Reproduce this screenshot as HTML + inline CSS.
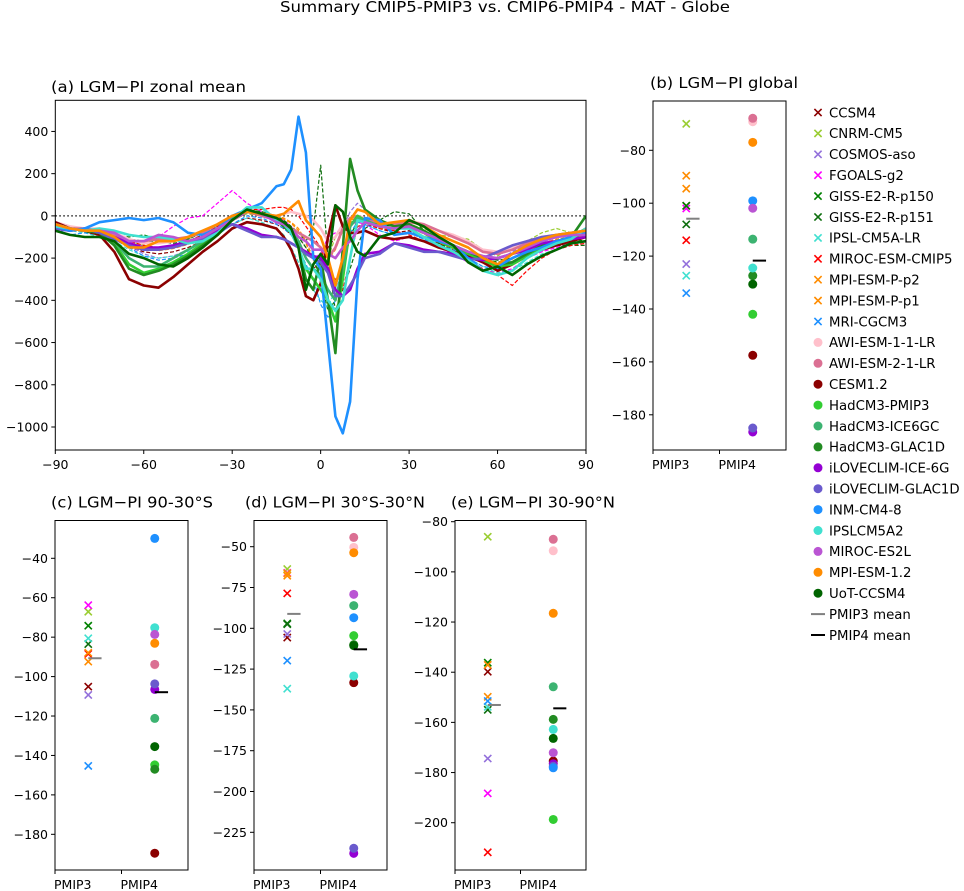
<!DOCTYPE html>
<html><head><meta charset="utf-8"><style>
html,body{margin:0;padding:0;background:#fff;}
svg{display:block;font-family:"DejaVu Sans","Liberation Sans",sans-serif;}
</style></head><body>
<svg id="fig" width="964" height="891" viewBox="0 0 964 891" xmlns="http://www.w3.org/2000/svg">
<rect x="0" y="0" width="964" height="891" fill="#fff"/>
<text x="505" y="12" font-size="15.5" text-anchor="middle" textLength="450" lengthAdjust="spacingAndGlyphs">Summary CMIP5-PMIP3 vs. CMIP6-PMIP4 - MAT - Globe</text>
</svg>
<script>
// ---------- data ----------
const pmip3Names = ["CCSM4","CNRM-CM5","COSMOS-aso","FGOALS-g2","GISS-E2-R-p150","GISS-E2-R-p151","IPSL-CM5A-LR","MIROC-ESM-CMIP5","MPI-ESM-P-p2","MPI-ESM-P-p1","MRI-CGCM3"];
const pmip3Colors = ["#8b0000","#9acd32","#9370db","#ff00ff","#008000","#0e6e0e","#40e0d0","#ff0000","#ff8c00","#ff8c00","#1e90ff"];
const pmip4Names = ["AWI-ESM-1-1-LR","AWI-ESM-2-1-LR","CESM1.2","HadCM3-PMIP3","HadCM3-ICE6GC","HadCM3-GLAC1D","iLOVECLIM-ICE-6G","iLOVECLIM-GLAC1D","INM-CM4-8","IPSLCM5A2","MIROC-ES2L","MPI-ESM-1.2","UoT-CCSM4"];
const pmip4Colors = ["#ffc0cb","#db7093","#8b0000","#32cd32","#3cb371","#228b22","#9400d3","#6a5acd","#1e90ff","#40e0d0","#ba55d3","#ff8c00","#006400"];

const globalP3 = [-101,-70,-123,-102,-101,-108,-127.4,-114,-89.6,-94.5,-134];
const globalP4 = [-69.2,-67.9,-157.5,-142,-113.6,-127.4,-186.5,-185,-99.1,-124.5,-101.9,-77,-130.6];
const southP3 = [-105.1,-67.1,-109.3,-63.8,-74.2,-83.5,-80.6,-88.5,-87.9,-92.4,-145.3];
const southP4 = [-94,-93.8,-189.6,-144.8,-121.2,-147,-106.5,-103.7,-29.9,-75.2,-78.6,-83.1,-135.5];
const tropP3 = [-105.7,-63.7,-103.5,-66,-97,-97.5,-137,-78.6,-66.3,-67.8,-119.8];
const tropP4 = [-50.4,-44.3,-133.3,-104.5,-86.1,-110,-237.9,-234.8,-93.5,-129.2,-79.2,-53.7,-110.6];
const northP3 = [-139.8,-86,-174.4,-188.3,-136.2,-155,-153.8,-211.8,-137.1,-149.8,-151.5];
const northP4 = [-91.6,-87,-175.4,-198.7,-145.8,-158.8,-176.5,-177.5,-178.1,-162.8,-172.1,-116.5,-166.4];

const lats = [-90,-85,-80,-75,-70,-65,-60,-55,-50,-45,-40,-35,-30,-25,-20,-15,-12.5,-10,-7.5,-5,-2.5,0,2.5,5,7.5,10,12.5,15,20,25,30,35,40,45,50,55,60,65,70,75,80,85,90];
const zonalP3 = [
[-40,-60,-70,-80,-110,-150,-170,-180,-170,-150,-120,-80,-40,-10,-20,-40,-60,-90,-130,-200,-250,-220,-150,-100,-60,-30,-20,-30,-60,-80,-70,-100,-130,-160,-200,-220,-240,-220,-180,-150,-130,-110,-90],
[-30,-50,-60,-60,-80,-120,-140,-130,-120,-110,-80,-50,-20,10,0,-20,-40,-60,-100,-150,-200,-250,-200,-100,-50,-30,-20,-20,-40,-50,-40,-60,-90,-100,-110,-160,-190,-150,-120,-80,-60,-80,-90],
[-40,-60,-60,-80,-100,-140,-180,-200,-190,-160,-120,-70,-20,20,10,-10,-30,-60,-150,-250,-300,-280,-200,-150,-60,20,60,30,-20,-50,-60,-80,-110,-140,-180,-190,-210,-170,-130,-100,-90,-80,-80],
[-40,-60,-70,-80,-100,-130,-120,-100,-50,-10,0,60,120,60,20,0,-20,-50,-100,-150,-200,-180,-100,-80,-60,-40,-30,-40,-90,-120,-100,-120,-150,-180,-220,-250,-270,-250,-200,-170,-150,-130,-120],
[-50,-60,-70,-80,-90,-100,-90,-110,-120,-110,-80,-40,0,30,20,-10,-30,-60,-100,-150,-200,-300,-450,-400,-250,-100,-20,-10,-40,-50,-60,-100,-140,-150,-170,-200,-220,-200,-160,-130,-120,-110,-120],
[-40,-60,-80,-80,-100,-110,-120,-120,-130,-120,-90,-50,-10,20,20,0,-20,-50,-80,-120,-60,240,-200,-450,-350,-250,-140,-60,-20,20,10,-70,-130,-150,-180,-200,-210,-200,-160,-130,-140,-140,-140],
[-50,-70,-80,-100,-120,-160,-190,-200,-190,-170,-140,-90,-40,-10,-30,-60,-90,-150,-220,-300,-350,-400,-430,-350,-200,-100,-50,-40,-70,-90,-80,-110,-140,-160,-200,-240,-270,-260,-220,-180,-160,-140,-120],
[-40,-50,-60,-80,-100,-120,-140,-150,-140,-120,-90,-50,-10,30,30,40,40,30,0,-50,-100,-150,-250,-300,-350,-200,-50,-40,-60,-70,-90,-120,-150,-170,-210,-250,-280,-330,-260,-200,-160,-140,-130],
[-40,-60,-70,-70,-90,-130,-150,-160,-150,-130,-100,-60,-20,20,10,0,-10,-30,-60,-120,-200,-230,-200,-150,-60,-10,0,-20,-50,-60,-50,-80,-120,-150,-180,-210,-240,-200,-160,-130,-110,-100,-90],
[-45,-65,-75,-75,-95,-135,-155,-165,-155,-135,-105,-65,-25,15,5,-5,-15,-35,-70,-130,-210,-240,-210,-160,-70,-20,-10,-25,-55,-65,-55,-85,-125,-155,-185,-215,-245,-205,-165,-135,-115,-105,-95],
[-60,-90,-80,-90,-110,-150,-190,-210,-200,-180,-140,-90,-40,0,-10,-40,-60,-90,-150,-230,-300,-420,-480,-400,-200,-80,-30,-40,-70,-90,-80,-110,-140,-160,-200,-240,-250,-230,-190,-150,-130,-110,-100]
];
const zonalP4 = [
[-30,-50,-60,-60,-80,-110,-130,-130,-120,-100,-80,-40,0,20,10,0,10,20,10,0,-20,-60,-120,-100,-40,-10,0,-10,-30,-40,-20,-40,-70,-90,-120,-160,-170,-150,-120,-100,-90,-80,-70],
[-40,-60,-60,-70,-90,-120,-120,-110,-110,-100,-80,-40,0,20,0,-20,-40,-60,-80,-100,-120,-150,-200,-150,-60,-10,0,-20,-30,-40,-30,-40,-70,-100,-130,-170,-180,-160,-130,-110,-100,-90,-70],
[-30,-60,-70,-90,-170,-300,-330,-340,-290,-230,-170,-120,-60,-30,-40,-60,-100,-160,-250,-380,-400,-320,-100,50,-50,-80,-80,-70,-100,-110,-100,-120,-150,-170,-190,-220,-260,-230,-190,-160,-140,-120,-100],
[-40,-60,-70,-80,-130,-230,-270,-250,-220,-180,-130,-80,-20,20,10,-20,-50,-80,-150,-250,-300,-350,-400,-500,-300,-50,0,-20,-50,-60,-50,-80,-120,-150,-180,-210,-240,-230,-190,-150,-130,-110,-70],
[-40,-60,-70,-80,-120,-200,-240,-240,-200,-160,-120,-70,-10,30,10,-20,-40,-70,-120,-200,-250,-280,-350,-400,-250,-50,-10,-20,-50,-60,-50,-70,-110,-140,-170,-200,-230,-220,-180,-140,-120,-100,-60],
[-40,-60,-70,-80,-140,-250,-280,-260,-230,-190,-140,-90,-20,30,10,-20,-50,-80,-150,-300,-350,-200,-400,-650,-150,270,120,30,-20,-50,-40,-70,-110,-140,-170,-200,-230,-220,-180,-140,-120,-100,0],
[-60,-70,-60,-80,-100,-130,-150,-150,-140,-120,-100,-70,-40,-60,-90,-100,-110,-130,-150,-170,-190,-200,-250,-350,-380,-350,-250,-180,-170,-130,-140,-160,-170,-180,-200,-210,-200,-180,-160,-130,-120,-110,-100],
[-60,-70,-60,-80,-110,-140,-160,-160,-150,-130,-110,-80,-40,-70,-100,-100,-110,-130,-150,-180,-200,-220,-270,-380,-380,-330,-270,-200,-180,-130,-150,-170,-170,-190,-210,-200,-170,-140,-120,-100,-90,-80,-70],
[-50,-70,-60,-30,-20,-10,-20,-10,-30,-80,-90,-60,0,30,60,140,150,220,470,300,-200,-250,-600,-950,-1030,-880,-300,-10,-20,-90,-80,-100,-120,-140,-200,-260,-240,-200,-170,-150,-120,-100,-80],
[-50,-60,-70,-60,-70,-90,-100,-100,-110,-130,-120,-80,-20,40,40,-20,-40,-80,-150,-250,-250,-300,-400,-450,-400,-200,-20,-30,-50,-60,-60,-100,-140,-170,-210,-260,-280,-260,-200,-160,-130,-110,-60],
[-40,-60,-70,-70,-80,-120,-120,-90,-100,-120,-100,-60,-20,20,10,-30,-40,-60,-100,-120,-160,-160,-180,-200,-150,-120,-70,-30,-50,-60,-50,-80,-110,-140,-170,-190,-200,-180,-150,-120,-100,-90,-90],
[-40,-60,-70,-70,-100,-150,-150,-120,-120,-100,-70,-40,0,20,10,0,10,40,70,-20,-60,-100,-200,-330,-200,-20,30,20,-40,-30,-20,-50,-90,-120,-150,-200,-230,-180,-140,-110,-90,-80,-70],
[-70,-90,-100,-100,-120,-180,-200,-230,-240,-200,-150,-90,-20,30,10,-10,-30,-60,-150,-350,-230,-180,-230,50,20,-100,-170,-190,-100,-80,-20,-50,-100,-140,-220,-260,-240,-280,-230,-190,-160,-130,-120]
];
const zonalXTicks = [-90,-60,-30,0,30,60,90];
const zonalYTicks = [400,200,0,-200,-400,-600,-800,-1000];

// ---------- helpers ----------
const NS = "http://www.w3.org/2000/svg";
const svg = document.getElementById("fig");
function mk(tag, attrs, parent) {
  const e = document.createElementNS(NS, tag);
  for (const k in attrs) e.setAttribute(k, attrs[k]);
  (parent || svg).appendChild(e);
  return e;
}
function fmt(v){ return (v<0?"\u2212":"") + Math.abs(v); }
function crossMark(g, cx, cy, color) {
  const s = 3.6;
  mk("path", {d:`M${cx-s},${cy-s}L${cx+s},${cy+s}M${cx-s},${cy+s}L${cx+s},${cy-s}`, stroke:color, "stroke-width":1.6, fill:"none"}, g);
}

// ---------- panel (a) ----------
const A = {x0:55.3, x1:586, y0:100.3, y1:450, vTop:547.5, vBot:-1109};
const ax = v => A.x0 + (v + 90) / 180 * (A.x1 - A.x0);
const ay = v => A.y0 + (A.vTop - v) / (A.vTop - A.vBot) * (A.y1 - A.y0);
const ga = mk("g", {});


const clipA = mk("clipPath", {id:"clipA"}, ga);
mk("rect", {x:A.x0, y:A.y0, width:A.x1-A.x0, height:A.y1-A.y0}, clipA);
const pt = mk("text", {x:51, y:92, "font-size":15.5, textLength:195, lengthAdjust:"spacingAndGlyphs"}, ga);
pt.textContent = "(a) LGM\u2212PI zonal mean";


const lines = mk("g", {"clip-path":"url(#clipA)"}, ga);
const zl = mk("line", {x1:A.x0, x2:A.x1, y1:ay(0), y2:ay(0), stroke:"#000", "stroke-width":1.2, "stroke-dasharray":"1.5,2.5"}, lines);


function drawSeries(vals, color, w, dash, name) {
  const d = vals.map((v,i)=>(i?"L":"M")+ax(lats[i]).toFixed(1)+","+ay(v).toFixed(1)).join("");
  const p = mk("path", {d:d, stroke:color, "stroke-width":w, fill:"none", "stroke-linejoin":"round", "stroke-dasharray":dash}, lines);
  
  
}
zonalP3.forEach((s,i)=>drawSeries(s, pmip3Colors[i], 1.2, "4,2", pmip3Names[i]));
zonalP4.forEach((s,i)=>drawSeries(s, pmip4Colors[i], 2.6, "none", pmip4Names[i]));
mk("rect", {x:A.x0, y:A.y0, width:A.x1-A.x0, height:A.y1-A.y0, fill:"none", stroke:"#000", "stroke-width":1}, ga);
zonalXTicks.forEach(v=>{
  mk("line", {x1:ax(v), x2:ax(v), y1:A.y1, y2:A.y1+4, stroke:"#000"}, ga);
  const t = mk("text", {x:ax(v), y:A.y1+19, "font-size":12.5, "text-anchor":"middle"}, ga);
  t.textContent = fmt(v);
  
  
});
zonalYTicks.forEach(v=>{
  mk("line", {x1:A.x0-4, x2:A.x0, y1:ay(v), y2:ay(v), stroke:"#000"}, ga);
  const t = mk("text", {x:A.x0-7, y:ay(v)+4.5, "font-size":12.5, "text-anchor":"end"}, ga);
  t.textContent = fmt(v);
  
  
});

// ---------- scatter panels ----------
function scatterPanel(cfg, p3, p4) {
  const g = mk("g", {});
  
  
  const sx = v => cfg.x0 + v / 2 * (cfg.x1 - cfg.x0);
  const sy = v => cfg.refY - (v - cfg.refV) * cfg.ppu;
  const t = mk("text", {x:cfg.tx, y:cfg.y0-13, "font-size":15.5, textLength:cfg.tw, lengthAdjust:"spacingAndGlyphs"}, g);
  t.textContent = cfg.title;
  
  
  mk("rect", {x:cfg.x0, y:cfg.y0, width:cfg.x1-cfg.x0, height:cfg.y1-cfg.y0, fill:"none", stroke:"#000", "stroke-width":1}, g);
  cfg.ticks.forEach(v=>{
    mk("line", {x1:cfg.x0-4, x2:cfg.x0, y1:sy(v), y2:sy(v), stroke:"#000"}, g);
    const tt = mk("text", {x:cfg.x0-7, y:sy(v)+4.5, "font-size":12.5, "text-anchor":"end"}, g);
    tt.textContent = fmt(v);
    
    
  });
  ["PMIP3","PMIP4"].forEach((lab,i)=>{
    mk("line", {x1:sx(i), x2:sx(i), y1:cfg.y1, y2:cfg.y1+4, stroke:"#000"}, g);
    const tt = mk("text", {x:sx(i)-1, y:cfg.y1+19, "font-size":12.5}, g);
    tt.textContent = lab;
    
    
  });
  p3.forEach((v,i)=>{
    const m = mk("g", {}, g);
    
    
    crossMark(m, sx(0.5), sy(v), pmip3Colors[i]);
  });
  p4.forEach((v,i)=>{
    const c = mk("circle", {cx:sx(1.5), cy:sy(v), r:4.5, fill:pmip4Colors[i]}, g);
    
    
  });
  const m3 = p3.reduce((a,b)=>a+b,0)/p3.length;
  const m4 = p4.reduce((a,b)=>a+b,0)/p4.length;
  const l3 = mk("line", {x1:sx(0.5), x2:sx(0.7), y1:sy(m3), y2:sy(m3), stroke:"#808080", "stroke-width":2}, g);
  
  
  const l4 = mk("line", {x1:sx(1.5), x2:sx(1.7), y1:sy(m4), y2:sy(m4), stroke:"#000", "stroke-width":2}, g);
  
  
}
scatterPanel({name:"global-panel", title:"(b) LGM\u2212PI global", tx:650, tw:148, x0:653, x1:786, y0:101, y1:450, refY:150.3, refV:-80, ppu:2.645, ticks:[-80,-100,-120,-140,-160,-180]}, globalP3, globalP4);
scatterPanel({name:"south-panel", title:"(c) LGM\u2212PI 90-30\u00b0S", tx:51, tw:162, x0:55, x1:188, y0:520.5, y1:870, refY:558.3, refV:-40, ppu:1.9715, ticks:[-40,-60,-80,-100,-120,-140,-160,-180]}, southP3, southP4);
scatterPanel({name:"tropics-panel", title:"(d) LGM\u2212PI 30\u00b0S-30\u00b0N", tx:245, tw:180, x0:254, x1:387, y0:520.5, y1:870, refY:546.7, refV:-50, ppu:1.632, ticks:[-50,-75,-100,-125,-150,-175,-200,-225]}, tropP3, tropP4);
scatterPanel({name:"north-panel", title:"(e) LGM\u2212PI 30-90\u00b0N", tx:451, tw:164, x0:455, x1:586, y0:520.5, y1:870, refY:521.7, refV:-80, ppu:2.5085, ticks:[-80,-100,-120,-140,-160,-180,-200]}, northP3, northP4);

// ---------- legend ----------
const lg = mk("g", {});


const entries = [];
pmip3Names.forEach((n,i)=>entries.push({n:n, c:pmip3Colors[i], k:"x"}));
pmip4Names.forEach((n,i)=>entries.push({n:n, c:pmip4Colors[i], k:"o"}));
entries.push({n:"PMIP3 mean", c:"#808080", k:"-"});
entries.push({n:"PMIP4 mean", c:"#000", k:"-"});
entries.forEach((e,i)=>{
  const y = 112.5 + i * 20.9;
  const eg = mk("g", {}, lg);
  
  
  if (e.k === "x") crossMark(eg, 818, y, e.c);
  else if (e.k === "o") mk("circle", {cx:818, cy:y, r:4.5, fill:e.c}, eg);
  else mk("line", {x1:811, x2:825, y1:y, y2:y, stroke:e.c, "stroke-width":2}, eg);
  const t = mk("text", {x:829, y:y+4.8, "font-size":13.3}, eg);
  t.textContent = e.n;
});
</script>
</body></html>
